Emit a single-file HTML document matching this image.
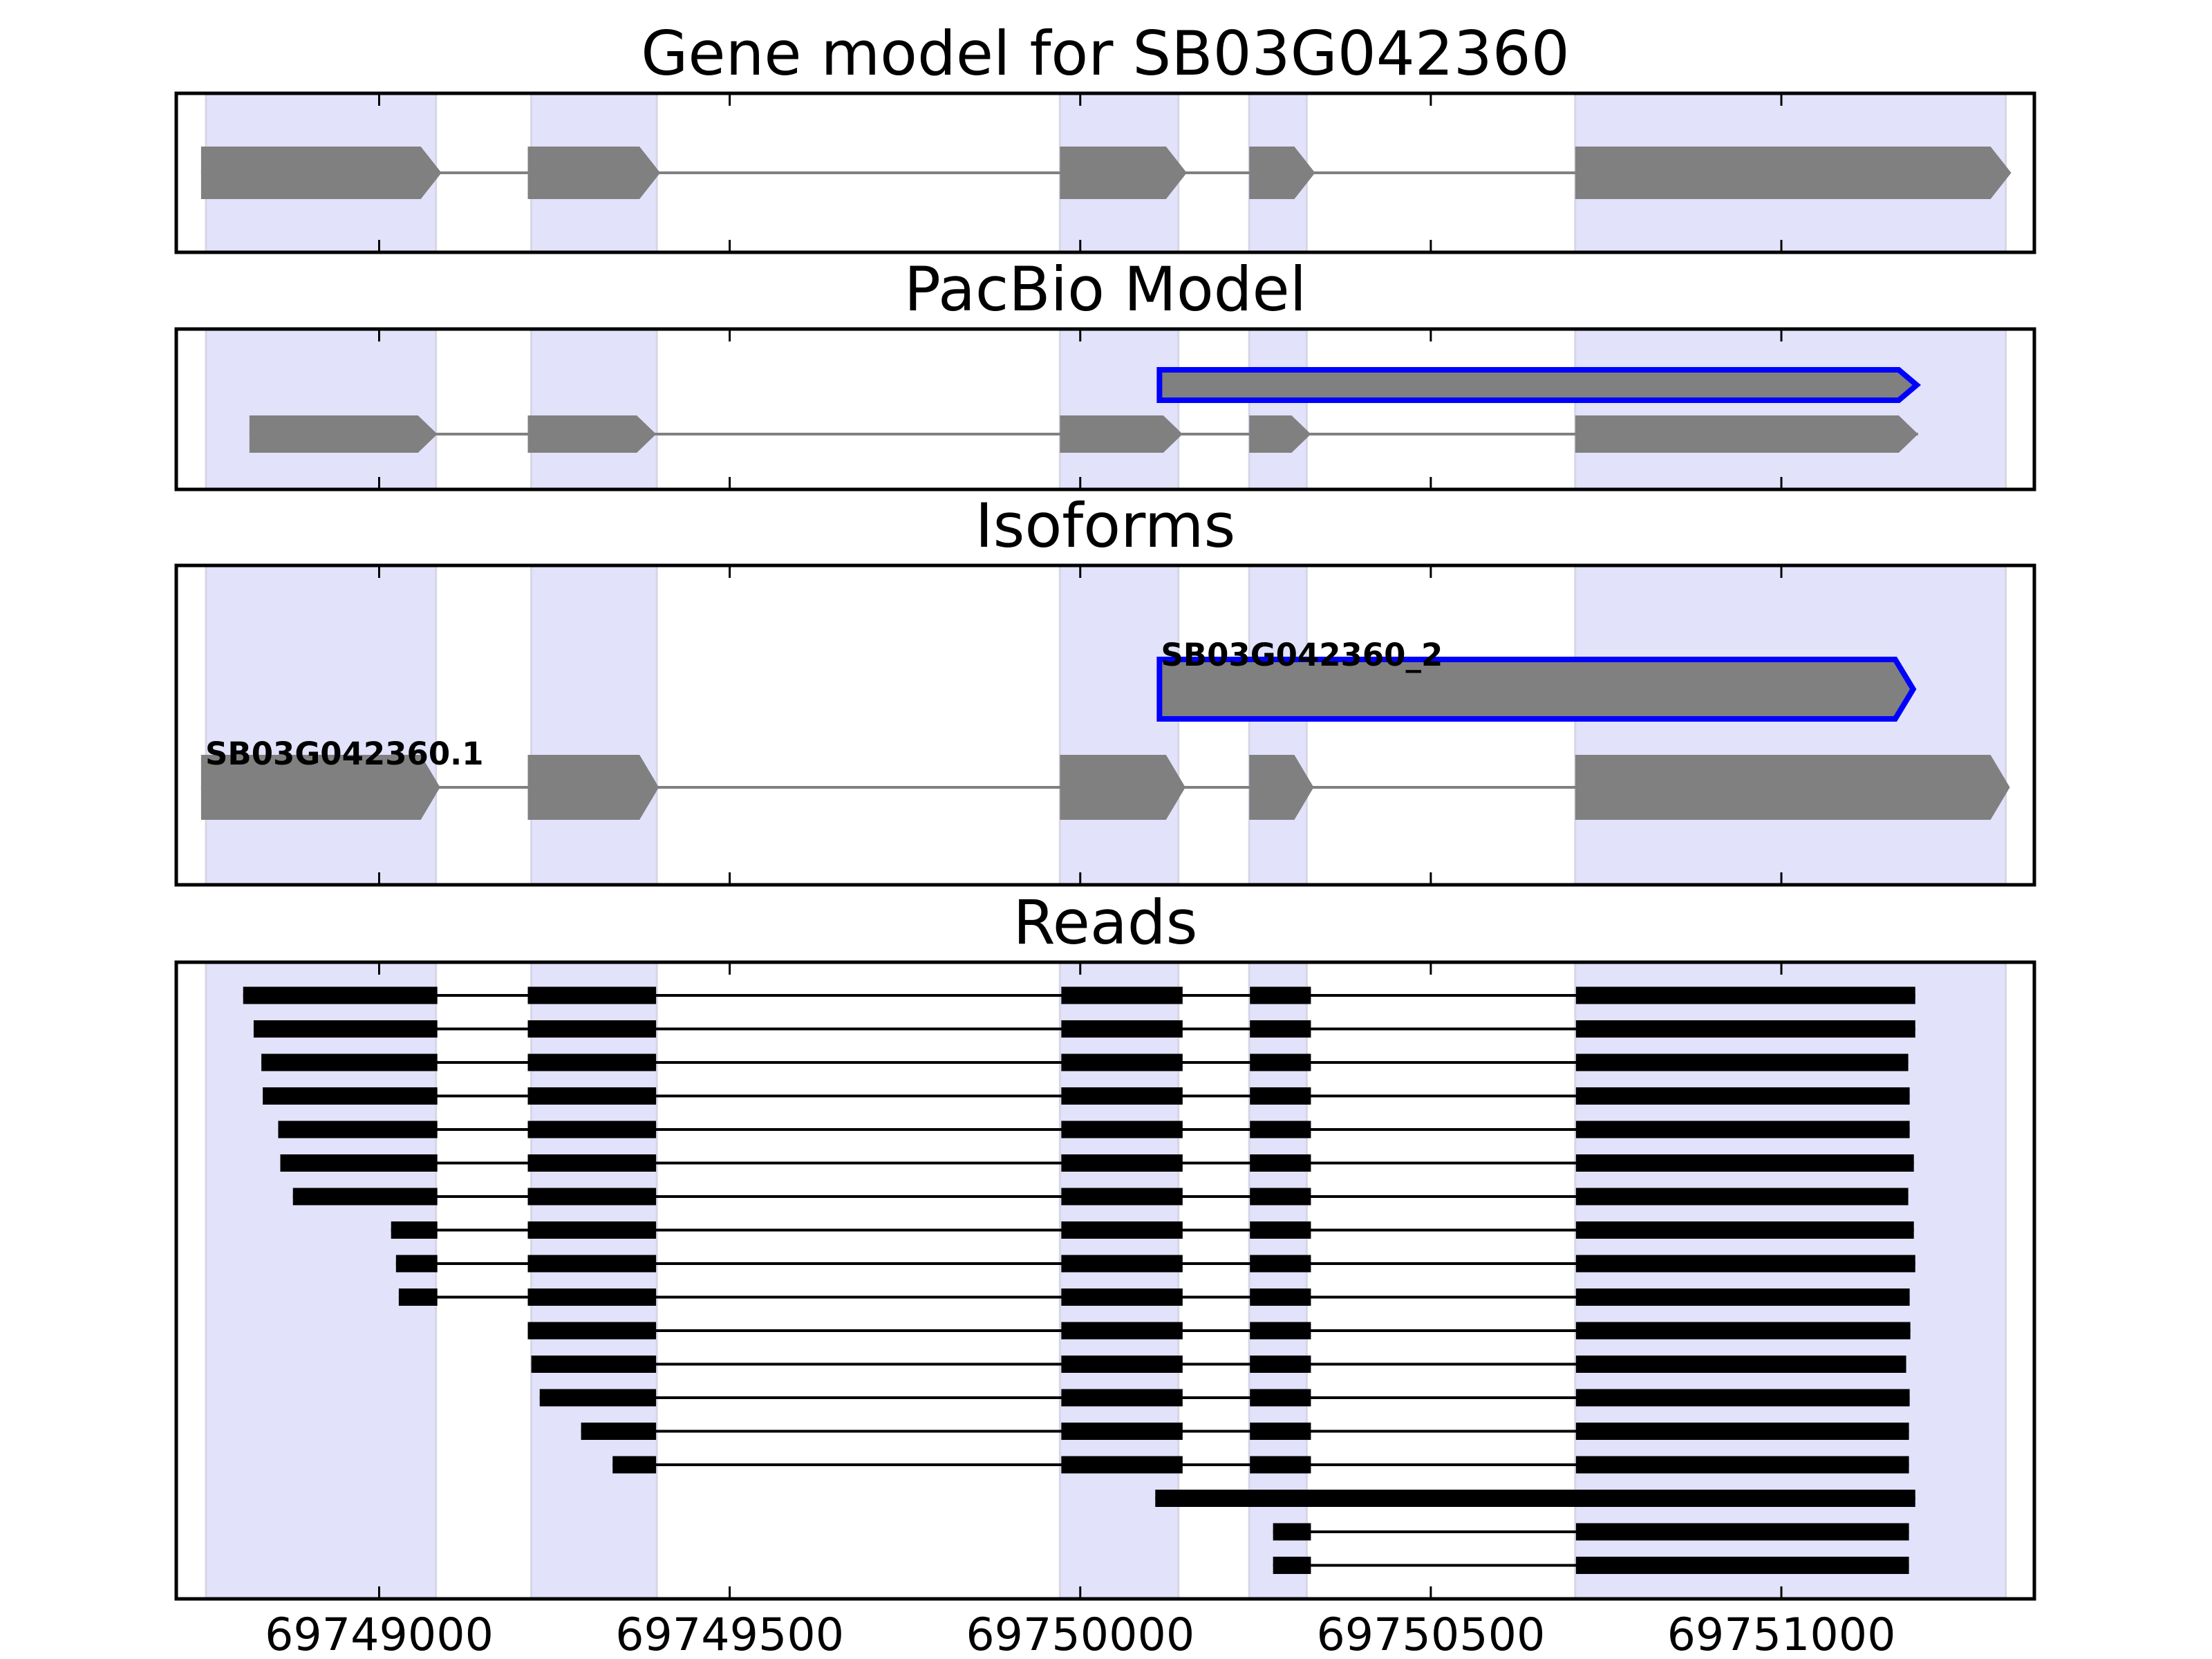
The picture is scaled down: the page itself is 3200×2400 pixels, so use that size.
<!DOCTYPE html>
<html><head><meta charset="utf-8"><style>
html,body{margin:0;padding:0;background:#fff;}
svg{display:block;font-family:"DejaVu Sans","Liberation Sans",sans-serif;}
</style></head><body>
<svg id="chart" width="3200" height="2400" viewBox="0 0 3200 2400"></svg>
<script>
// ---- data ----
const xTicks = [69749000, 69749500, 69750000, 69750500, 69751000];
const shadeStarts = [69748753, 69749217, 69749971, 69750241, 69750706];
const shadeEnds   = [69749081, 69749396, 69750140, 69750323, 69751320];
const geneExonStarts = [69748746, 69749212, 69749971, 69750241, 69750706];
const geneExonEnds   = [69749083, 69749395, 69750146, 69750329, 69751322];
const pacbioExonStarts = [69748815, 69749212, 69749971, 69750241, 69750706];
const pacbioExonEnds   = [69749083, 69749395, 69750146, 69750329, 69751195];
const pacbioBlue = [69750113, 69751195];
const isoBlue = [69750113, 69751190];
const isoLabels = ["SB03G042360_2", "SB03G042360.1"];
const readStarts = [69748806, 69748821, 69748832, 69748834, 69748856, 69748859, 69748877, 69749017, 69749024, 69749028, 69749212, 69749217, 69749229, 69749288, 69749333, 69750107, 69750275, 69750275];
const readEnds = [69751191, 69751191, 69751181, 69751183, 69751183, 69751189, 69751181, 69751189, 69751191, 69751183, 69751184, 69751178, 69751183, 69751182, 69751182, 69751191, 69751182, 69751182];
const readExonStarts = [69749212, 69749973, 69750242, 69750707];
const readExonEnds = [69749083, 69749395, 69750146, 69750329];

// ---- scales ----
const L = 255, R = 2943;
const X0 = 69749000, PX0 = 548.5, K = 1.01425;
function x(g){ return PX0 + (g - X0) * K; }
const panels = [
  {top:135, bot:365, title:"Gene model for SB03G042360", name:"gene-model-panel"},
  {top:476, bot:708, title:"PacBio Model", name:"pacbio-model-panel"},
  {top:818, bot:1280, title:"Isoforms", name:"isoforms-panel"},
  {top:1392, bot:2313, title:"Reads", name:"reads-panel"}
];
const svg = document.getElementById('chart');
const NS = "http://www.w3.org/2000/svg";
function mk(tag, attrs, parent){
  const e = document.createElementNS(NS, tag);
  for (const k in attrs) e.setAttribute(k, attrs[k]);
  (parent || svg).appendChild(e);
  return e;
}
function arrowPts(s, e, cy, h, alen, over){
  const xs = x(s), tip = x(e) + over, flat = tip - alen;
  return `${xs},${cy-h} ${flat},${cy-h} ${tip},${cy} ${flat},${cy+h} ${xs},${cy+h}`;
}
function geneRow(g, starts, ends, cy, h, alen, over, rowName){
  const ln = mk('line', {x1:x(starts[0]), x2:x(ends[ends.length-1]), y1:cy, y2:cy, stroke:'#808080', 'stroke-width':4}, g);
  
  
  for (let i = 0; i < starts.length; i++){
    const p = mk('polygon', {points:arrowPts(starts[i], ends[i], cy, h, alen, over), fill:'#808080'}, g);
    
    
  }
}
function blueBox(g, span, cy, h, alen, name){
  const p = mk('polygon', {points:arrowPts(span[0], span[1], cy, h, alen, -2), fill:'#808080', stroke:'#0000ff', 'stroke-width':8}, g);
  
  
}

panels.forEach((P, pi) => {
  const g = mk('g', {});
  
  
  for (let i = 0; i < shadeStarts.length; i++){
    const r = mk('rect', {x:x(shadeStarts[i]), y:P.top, width:x(shadeEnds[i]) - x(shadeStarts[i]), height:P.bot - P.top, fill:'#e2e2fb', stroke:'#d6d6e6', 'stroke-width':3}, g);
    
    
  }
  if (pi === 0){
    geneRow(g, geneExonStarts, geneExonEnds, 250, 38, 30, 6, 'gene-model');
  } else if (pi === 1){
    blueBox(g, pacbioBlue, 557, 22, 26, 'pacbio-highlight-transcript');
    geneRow(g, pacbioExonStarts, pacbioExonEnds, 628, 27, 28, 0, 'pacbio-transcript');
  } else if (pi === 2){
    blueBox(g, isoBlue, 997, 43, 26, 'isoform-2-transcript');
    geneRow(g, geneExonStarts, geneExonEnds, 1139, 47, 28, 4, 'isoform-1');
    const t1 = mk('text', {x:x(isoBlue[0]) + 2, y:963, 'font-size':45, 'font-weight':'bold', fill:'#000'}, g);
    t1.textContent = isoLabels[0];
    
    
    const t2 = mk('text', {x:297, y:1106, 'font-size':45, 'font-weight':'bold', fill:'#000'}, g);
    t2.textContent = isoLabels[1];
    
    
  } else {
    for (let r = 0; r < readStarts.length; r++){
      const cy = 1440 + r * 48.5;
      const rg = mk('g', {}, g);
      
      
      const s = readStarts[r], e = readEnds[r];
      const blocks = [];
      let cur = s;
      for (let j = 0; j < readExonEnds.length; j++){
        if (readExonEnds[j] > cur && readExonEnds[j] < e && cur < readExonEnds[j]){
          if (r === 15) break;
          blocks.push([cur, readExonEnds[j]]);
          cur = Math.max(cur, readExonStarts[j]);
        }
      }
      blocks.push([cur, e]);
      const ln = mk('line', {x1:x(s), x2:x(e), y1:cy, y2:cy, stroke:'#000', 'stroke-width':4}, rg);
      
      
      blocks.forEach((b, bi) => {
        const rc = mk('rect', {x:x(b[0]), y:cy - 12.5, width:x(b[1]) - x(b[0]), height:25, fill:'#000'}, rg);
        
        
      });
    }
  }
  xTicks.forEach(t => {
    const a = mk('line', {x1:x(t), x2:x(t), y1:P.top, y2:P.top + 18, stroke:'#000', 'stroke-width':3}, g);
    
    
    const b = mk('line', {x1:x(t), x2:x(t), y1:P.bot - 18, y2:P.bot, stroke:'#000', 'stroke-width':3}, g);
    
    
  });
  const fr = mk('rect', {x:L, y:P.top, width:R - L, height:P.bot - P.top, fill:'none', stroke:'#000', 'stroke-width':5}, g);
  
  
  const tt = mk('text', {x:(L + R) / 2, y:P.top - 27, 'font-size':88, 'text-anchor':'middle', fill:'#000'}, g);
  tt.textContent = P.title;
  
  
});
xTicks.forEach(t => {
  const tl = mk('text', {x:x(t), y:2387, 'font-size':65, 'text-anchor':'middle', fill:'#000'});
  tl.textContent = String(t);
  
  
});
</script>
</body></html>
